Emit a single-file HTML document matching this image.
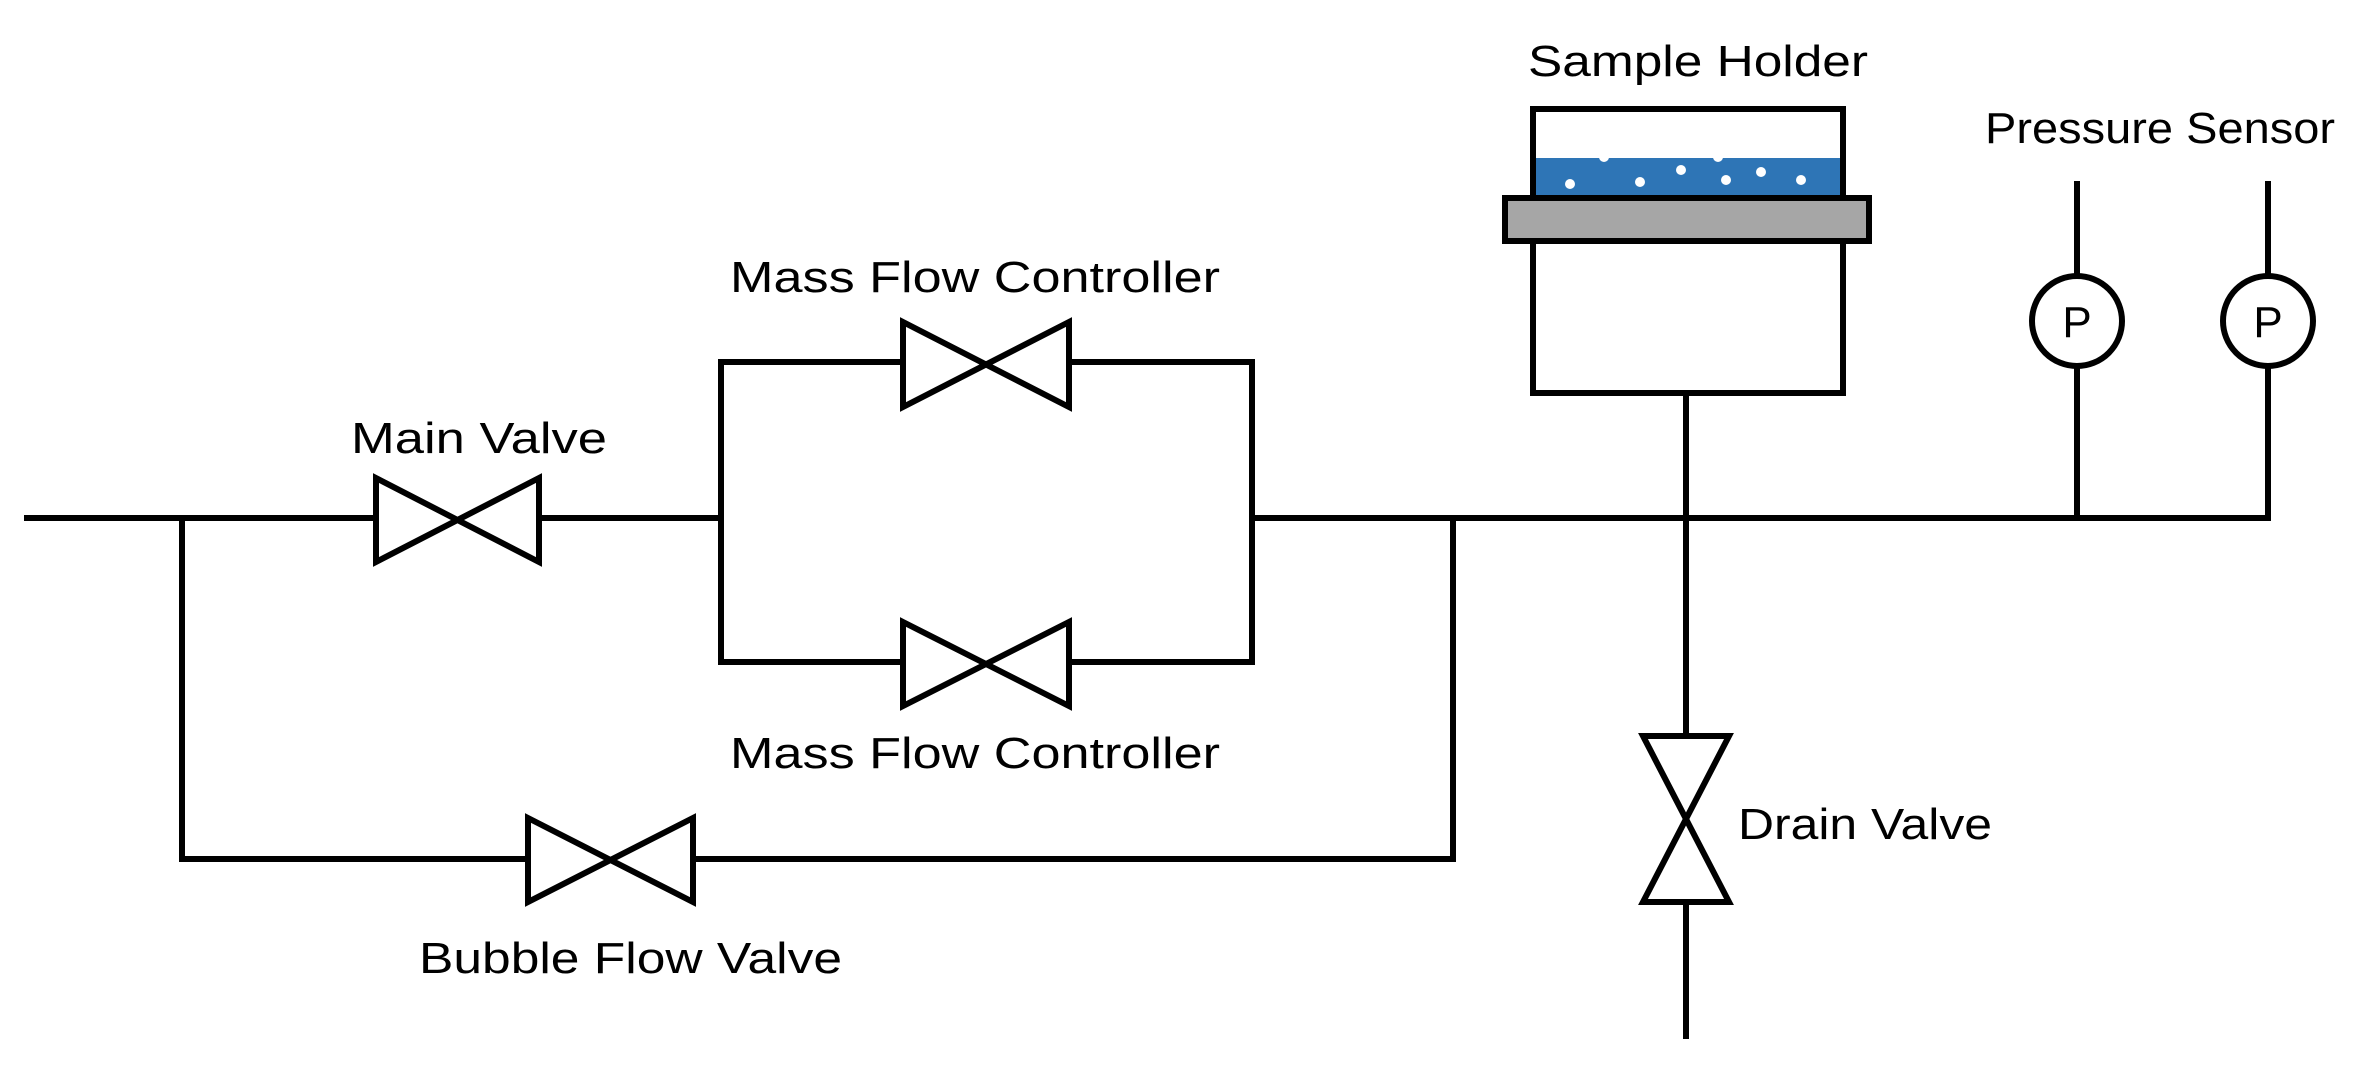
<!DOCTYPE html>
<html><head><meta charset="utf-8"><style>html,body{margin:0;padding:0;background:#fff;}svg{display:block}</style></head>
<body>
<svg width="2379" height="1067" viewBox="0 0 2379 1067" xmlns="http://www.w3.org/2000/svg">
<g stroke="#000" stroke-width="6" fill="none" stroke-linecap="square">
<line x1="27" y1="518" x2="376" y2="518"/>
<line x1="539" y1="518" x2="721" y2="518"/>
<line x1="1252" y1="518" x2="2268" y2="518"/>
<polyline points="182,518 182,859 528,859"/>
<polyline points="693,859 1453,859 1453,518"/>
<polyline points="903,362 721,362 721,662 903,662"/>
<polyline points="1069,362 1252,362 1252,662 1069,662"/>
<polygon points="376,478 539,562 539,478 376,562"/>
<polygon points="903,322 1069,407 1069,322 903,407"/>
<polygon points="903,622 1069,706 1069,622 903,706"/>
<polygon points="528,818 693,902 693,818 528,902"/>
<polygon points="1643,736 1729,902 1643,902 1729,736"/>
<line x1="1686" y1="393" x2="1686" y2="736"/>
<line x1="1686" y1="902" x2="1686" y2="1036"/>
<rect x="1533" y="109" width="310" height="284" fill="#fff"/>
<line x1="2077" y1="184" x2="2077" y2="275"/>
<line x1="2077" y1="367" x2="2077" y2="518"/>
<line x1="2268" y1="184" x2="2268" y2="275"/>
<line x1="2268" y1="367" x2="2268" y2="518"/>
<circle cx="2077" cy="321" r="45"/>
<circle cx="2268" cy="321" r="45"/>
</g>
<rect x="1536" y="158" width="304" height="37" fill="#2e75b6"/>
<rect x="1505" y="198" width="364" height="43" fill="#a6a6a6" stroke="#000" stroke-width="6"/>
<g fill="#fff">
<circle cx="1570" cy="184" r="5"/><circle cx="1604" cy="157" r="5"/><circle cx="1640" cy="182" r="5"/>
<circle cx="1681" cy="170" r="5"/><circle cx="1718" cy="157" r="5"/><circle cx="1726" cy="180" r="5"/>
<circle cx="1761" cy="172" r="5"/><circle cx="1801" cy="180" r="5"/>
</g>
<g font-family="Liberation Sans, sans-serif" fill="#000" font-size="44">
<text x="730" y="292" textLength="490" lengthAdjust="spacingAndGlyphs">Mass Flow Controller</text>
<text x="730" y="768" textLength="490" lengthAdjust="spacingAndGlyphs">Mass Flow Controller</text>
<text x="351" y="453" textLength="256" lengthAdjust="spacingAndGlyphs">Main Valve</text>
<text x="419" y="973" textLength="423" lengthAdjust="spacingAndGlyphs">Bubble Flow Valve</text>
<text x="1738" y="839" textLength="254" lengthAdjust="spacingAndGlyphs">Drain Valve</text>
<text x="1528" y="76" textLength="340" lengthAdjust="spacingAndGlyphs">Sample Holder</text>
<text x="1985" y="143" textLength="350" lengthAdjust="spacingAndGlyphs">Pressure Sensor</text>
<text x="2077" y="337" text-anchor="middle" font-size="44">P</text>
<text x="2268" y="337" text-anchor="middle" font-size="44">P</text>
</g>
</svg>
</body></html>
